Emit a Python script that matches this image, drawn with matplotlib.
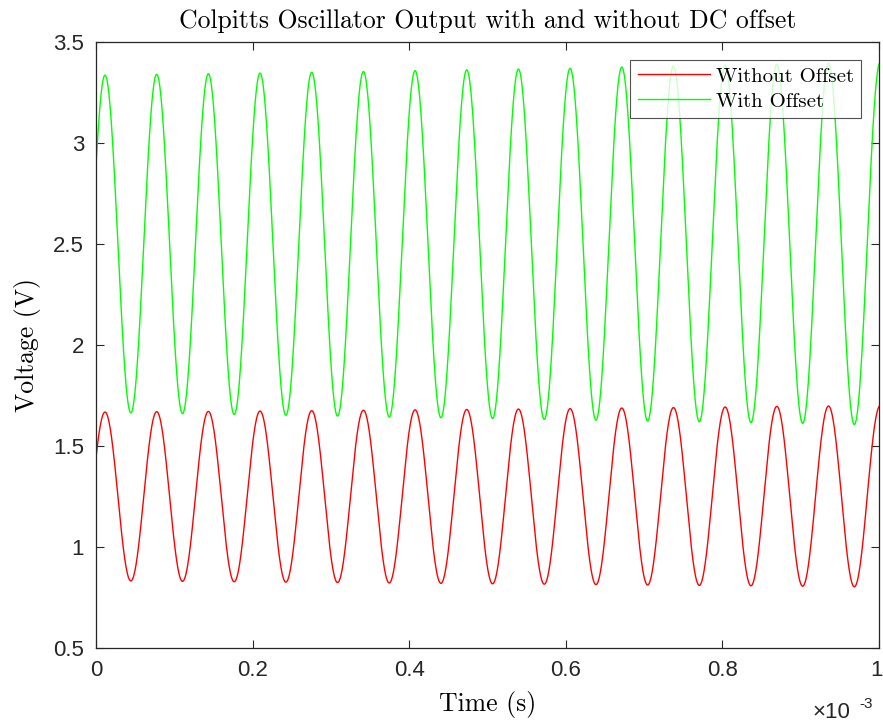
import numpy as np
import matplotlib
matplotlib.use("Agg")
import matplotlib.pyplot as plt
import matplotlib.transforms as mtransforms

# peak times (ms), troughs sit half a period after each peak
peak_t = [0.0115, 0.0775, 0.1435, 0.2095, 0.2755, 0.3415, 0.4075, 0.4735,
          0.5395, 0.6055, 0.6715, 0.7375, 0.8035, 0.8695, 0.9355, 1.0015]
half_period = 0.033

# without offset (red)
red_peaks = [1.668, 1.670, 1.671, 1.673, 1.675, 1.677, 1.679, 1.681,
             1.683, 1.685, 1.688, 1.690, 1.693, 1.696, 1.698, 1.700]
red_troughs = [0.832, 0.832, 0.830, 0.828, 0.826, 0.824, 0.822, 0.820,
               0.818, 0.816, 0.814, 0.812, 0.810, 0.808, 0.806, 0.803]

# with offset (green)
green_peaks = [3.336, 3.340, 3.343, 3.346, 3.350, 3.354, 3.358, 3.362,
               3.366, 3.370, 3.376, 3.380, 3.386, 3.390, 3.395, 3.400]
green_troughs = [1.664, 1.664, 1.660, 1.656, 1.652, 1.648, 1.644, 1.640,
                 1.636, 1.632, 1.628, 1.624, 1.620, 1.616, 1.612, 1.606]

xticks = [0, 0.2, 0.4, 0.6, 0.8, 1]
xticklabels = ["0", "0.2", "0.4", "0.6", "0.8", "1"]
yticks = [0.5, 1, 1.5, 2, 2.5, 3, 3.5]
yticklabels = ["0.5", "1", "1.5", "2", "2.5", "3", "3.5"]


def waveform(peaks, troughs, t):
    # extrema list: trough before each peak, then the peak
    ext_t, ext_v = [], []
    for tp, vp, vt in zip(peak_t, peaks, troughs):
        ext_t += [tp - half_period, tp]
        ext_v += [vt, vp]
    ext_t = np.array(ext_t)
    ext_v = np.array(ext_v)
    i = np.clip(np.searchsorted(ext_t, t) - 1, 0, len(ext_t) - 2)
    f = (t - ext_t[i]) / (ext_t[i + 1] - ext_t[i])
    s = (1 - np.cos(np.pi * f)) / 2
    return ext_v[i] + (ext_v[i + 1] - ext_v[i]) * s


t = np.linspace(0, 1.0, 4000)
v_red = waveform(red_peaks, red_troughs, t)
v_green = waveform(green_peaks, green_troughs, t)

serif = "cmr10"
sans = "Liberation Sans"
axc = "#262626"

fig = plt.figure(figsize=(8.83, 7.26), dpi=100)
ax = fig.add_axes([96 / 883, 78 / 726, 783 / 883, 606 / 726])

ax.plot(t, v_red, color="#ff0000", lw=1.0, label="Without Offset")
ax.plot(t, v_green, color="#00ff00", lw=1.0, label="With Offset")

ax.set_xlim(0, 1)
ax.set_ylim(0.5, 3.5)
ax.set_xticks(xticks)
ax.set_xticklabels(xticklabels, fontname=sans, fontsize=16)
ax.set_yticks(yticks)
ax.set_yticklabels(yticklabels, fontname=sans, fontsize=16)
ax.tick_params(direction="in", length=6, width=0.8, colors=axc,
               top=True, right=True, pad=8.5)
for sp in ax.spines.values():
    sp.set_color(axc)
    sp.set_linewidth(0.9)

# nudge the last x label a little so it stays inside the canvas
last = ax.get_xticklabels()[-1]
last.set_transform(last.get_transform() +
                   mtransforms.ScaledTranslation(-2 / 100, 0, fig.dpi_scale_trans))

ax.set_title("Colpitts Oscillator Output with and without DC offset",
             fontname=serif, fontsize=18.5, pad=10)
ax.set_xlabel("Time (s)", fontname=serif, fontsize=18.5, labelpad=7)
ax.set_ylabel("Voltage (V)", fontname=serif, fontsize=18.5, labelpad=9)

fig.text(812 / 883, 8 / 726, "\u00d710", fontname=sans, fontsize=16,
         color=axc, ha="left", va="baseline")
fig.text(859 / 883, 18 / 726, "-3", fontname=sans, fontsize=11,
         color=axc, ha="left", va="baseline")

leg = ax.legend(loc="upper right", prop={"family": serif, "size": 15},
                frameon=True, fancybox=False, edgecolor=axc,
                borderaxespad=0.85, handlelength=3.45, handletextpad=0.3,
                borderpad=0.36, labelspacing=0.3)
leg.get_frame().set_linewidth(0.8)

fig.savefig("out.png", dpi=100)
